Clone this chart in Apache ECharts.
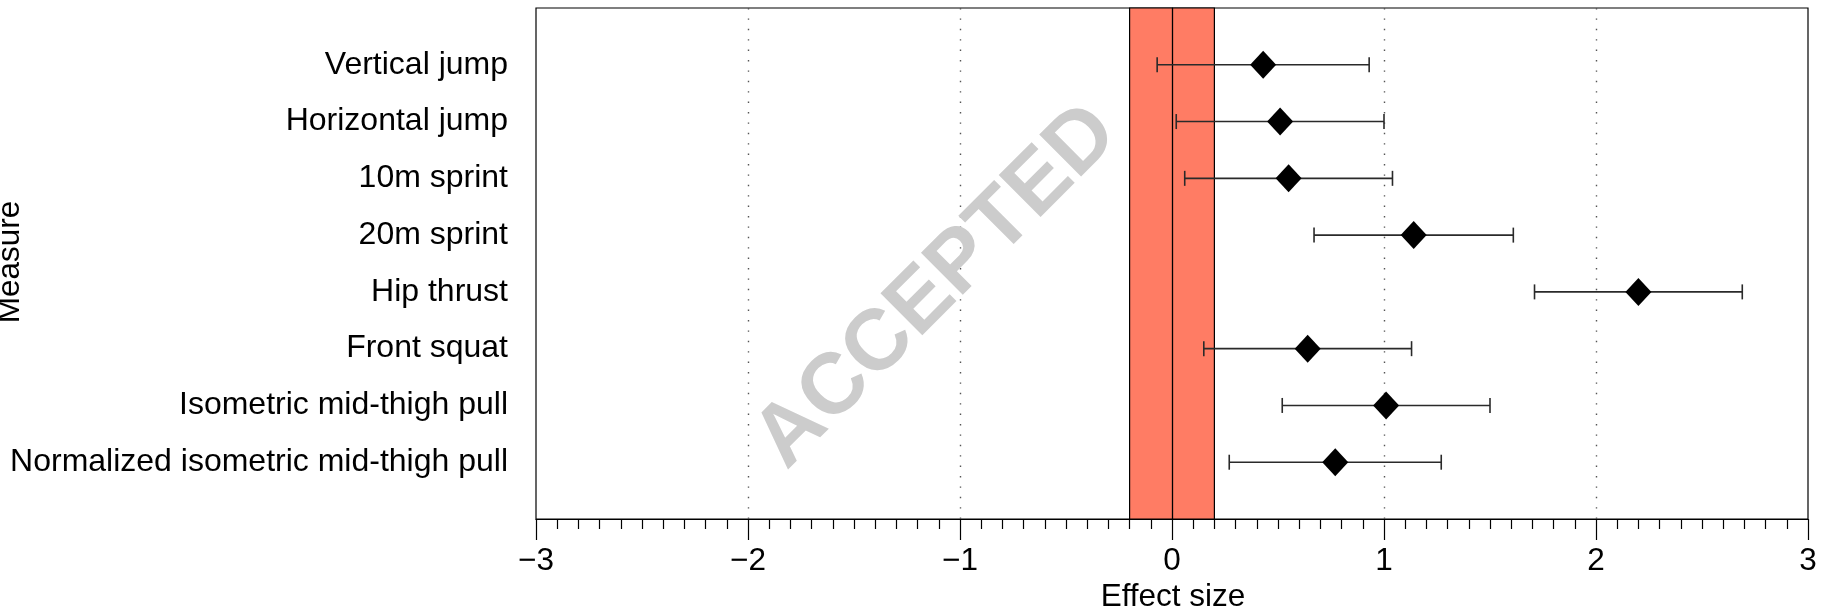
<!DOCTYPE html>
<html>
<head>
<meta charset="utf-8">
<script src="https://cdn.jsdelivr.net/npm/echarts@6/dist/echarts.min.js"></script>
<style>
  html, body { margin: 0; padding: 0; background: #ffffff; }
  #chart { width: 1821px; height: 612px; }
</style>
</head>
<body>
<div id="chart"></div>
<script>
// ---- data ----
const categories = [
  'Vertical jump',
  'Horizontal jump',
  '10m sprint',
  '20m sprint',
  'Hip thrust',
  'Front squat',
  'Isometric mid-thigh pull',
  'Normalized isometric mid-thigh pull'
];
const estimates = [0.43, 0.51, 0.55, 1.14, 2.20, 0.64, 1.01, 0.77];
const lowerCI   = [-0.07, 0.02, 0.06, 0.67, 1.71, 0.15, 0.52, 0.27];
const upperCI   = [0.93, 1.00, 1.04, 1.61, 2.69, 1.13, 1.50, 1.27];
const xTicks = [-3, -2, -1, 0, 1, 2, 3];
const gridLineValues = [-2, -1, 1, 2];
const ropeLow = -0.2;
const ropeHigh = 0.2;
const xTitle = 'Effect size';
const yTitle = 'Measure';
const watermark = 'ACCEPTED';

// ---- build ----
const FONT = "'Liberation Sans', Arial, Helvetica, sans-serif";
const catPositions = categories.map((c, i) => i + 1);
const errData = categories.map((c, i) => [i + 1, lowerCI[i], upperCI[i]]);
const ptData = categories.map((c, i) => [estimates[i], i + 1]);

const chart = echarts.init(document.getElementById('chart'), null, { renderer: 'canvas' });

const option = {
  animation: false,
  backgroundColor: '#ffffff',
  grid: {
    left: 536, right: 13, top: 8, bottom: 93,
    show: true, borderColor: '#000', borderWidth: 1.2, backgroundColor: 'transparent'
  },
  xAxis: {
    type: 'value',
    min: xTicks[0], max: xTicks[xTicks.length - 1], interval: 1,
    axisLine: { show: true, onZero: false, lineStyle: { color: '#000', width: 1.2 } },
    axisTick: { show: true, length: 21, lineStyle: { color: '#000', width: 1.2 } },
    minorTick: { show: true, splitNumber: 10, length: 10, lineStyle: { color: '#000', width: 1.2 } },
    axisLabel: {
      color: '#000', fontSize: 31.5, fontFamily: FONT, margin: 26,
      formatter: v => (v < 0 ? '\u2212' + Math.abs(v) : String(v))
    },
    splitLine: { show: false }
  },
  yAxis: {
    type: 'value',
    min: 0, max: categories.length + 1, interval: 1, inverse: true,
    axisLine: { show: true, lineStyle: { color: '#000', width: 1.2 } },
    axisTick: { show: true, length: 20, customValues: catPositions, lineStyle: { color: '#000', width: 1.2 } },
    axisLabel: {
      color: '#000', fontSize: 32, fontFamily: FONT, margin: 28,
      customValues: catPositions,
      formatter: v => categories[Math.round(v) - 1] || ''
    },
    splitLine: { show: false }
  },
  series: [
    {
      // reference band, gridlines and zero line
      type: 'line', data: [], z: 1, silent: true,
      markArea: {
        silent: true,
        itemStyle: { color: '#FF7C64', opacity: 1, borderColor: '#000', borderWidth: 1.2 },
        data: [[{ xAxis: ropeLow }, { xAxis: ropeHigh }]]
      },
      markLine: {
        silent: true, symbol: 'none', label: { show: false },
        data: gridLineValues.map(v => ({
          xAxis: v,
          lineStyle: { color: '#555', width: 1.4, type: [1.4, 9] }
        })).concat([{
          xAxis: 0,
          lineStyle: { color: '#000', width: 1.3, type: 'solid' }
        }])
      }
    },
    {
      type: 'custom', z: 5, silent: true,
      encode: { x: [1, 2], y: 0 },
      data: errData,
      renderItem: function (params, api) {
        const y = api.value(0);
        const p1 = api.coord([api.value(1), y]);
        const p2 = api.coord([api.value(2), y]);
        const h = 7.5;
        const st = { stroke: '#2a2a2a', lineWidth: 1.6 };
        return {
          type: 'group',
          children: [
            { type: 'line', shape: { x1: p1[0], y1: p1[1], x2: p2[0], y2: p2[1] }, style: st },
            { type: 'line', shape: { x1: p1[0], y1: p1[1] - h, x2: p1[0], y2: p1[1] + h }, style: st },
            { type: 'line', shape: { x1: p2[0], y1: p2[1] - h, x2: p2[0], y2: p2[1] + h }, style: st }
          ]
        };
      }
    },
    {
      type: 'scatter', z: 6, silent: true,
      symbol: 'diamond', symbolSize: [26, 28],
      itemStyle: { color: '#000', opacity: 1 },
      data: ptData
    }
  ],
  graphic: [
    {
      type: 'text', x: 10, y: 262, rotation: Math.PI / 2, z: 50,
      style: { text: yTitle, font: '31.5px ' + FONT, fill: '#000', align: 'center', verticalAlign: 'middle' }
    },
    {
      type: 'text', x: 1173, y: 597, z: 50,
      style: { text: xTitle, font: '31.5px ' + FONT, fill: '#000', align: 'center', verticalAlign: 'middle' }
    },
    {
      type: 'text', x: 937, y: 287, rotation: Math.PI / 4, z: 40,
      style: { text: watermark, font: 'bold 86px ' + FONT, fill: '#cccccc', align: 'center', verticalAlign: 'middle' }
    }
  ]
};

chart.setOption(option);
</script>
</body>
</html>
